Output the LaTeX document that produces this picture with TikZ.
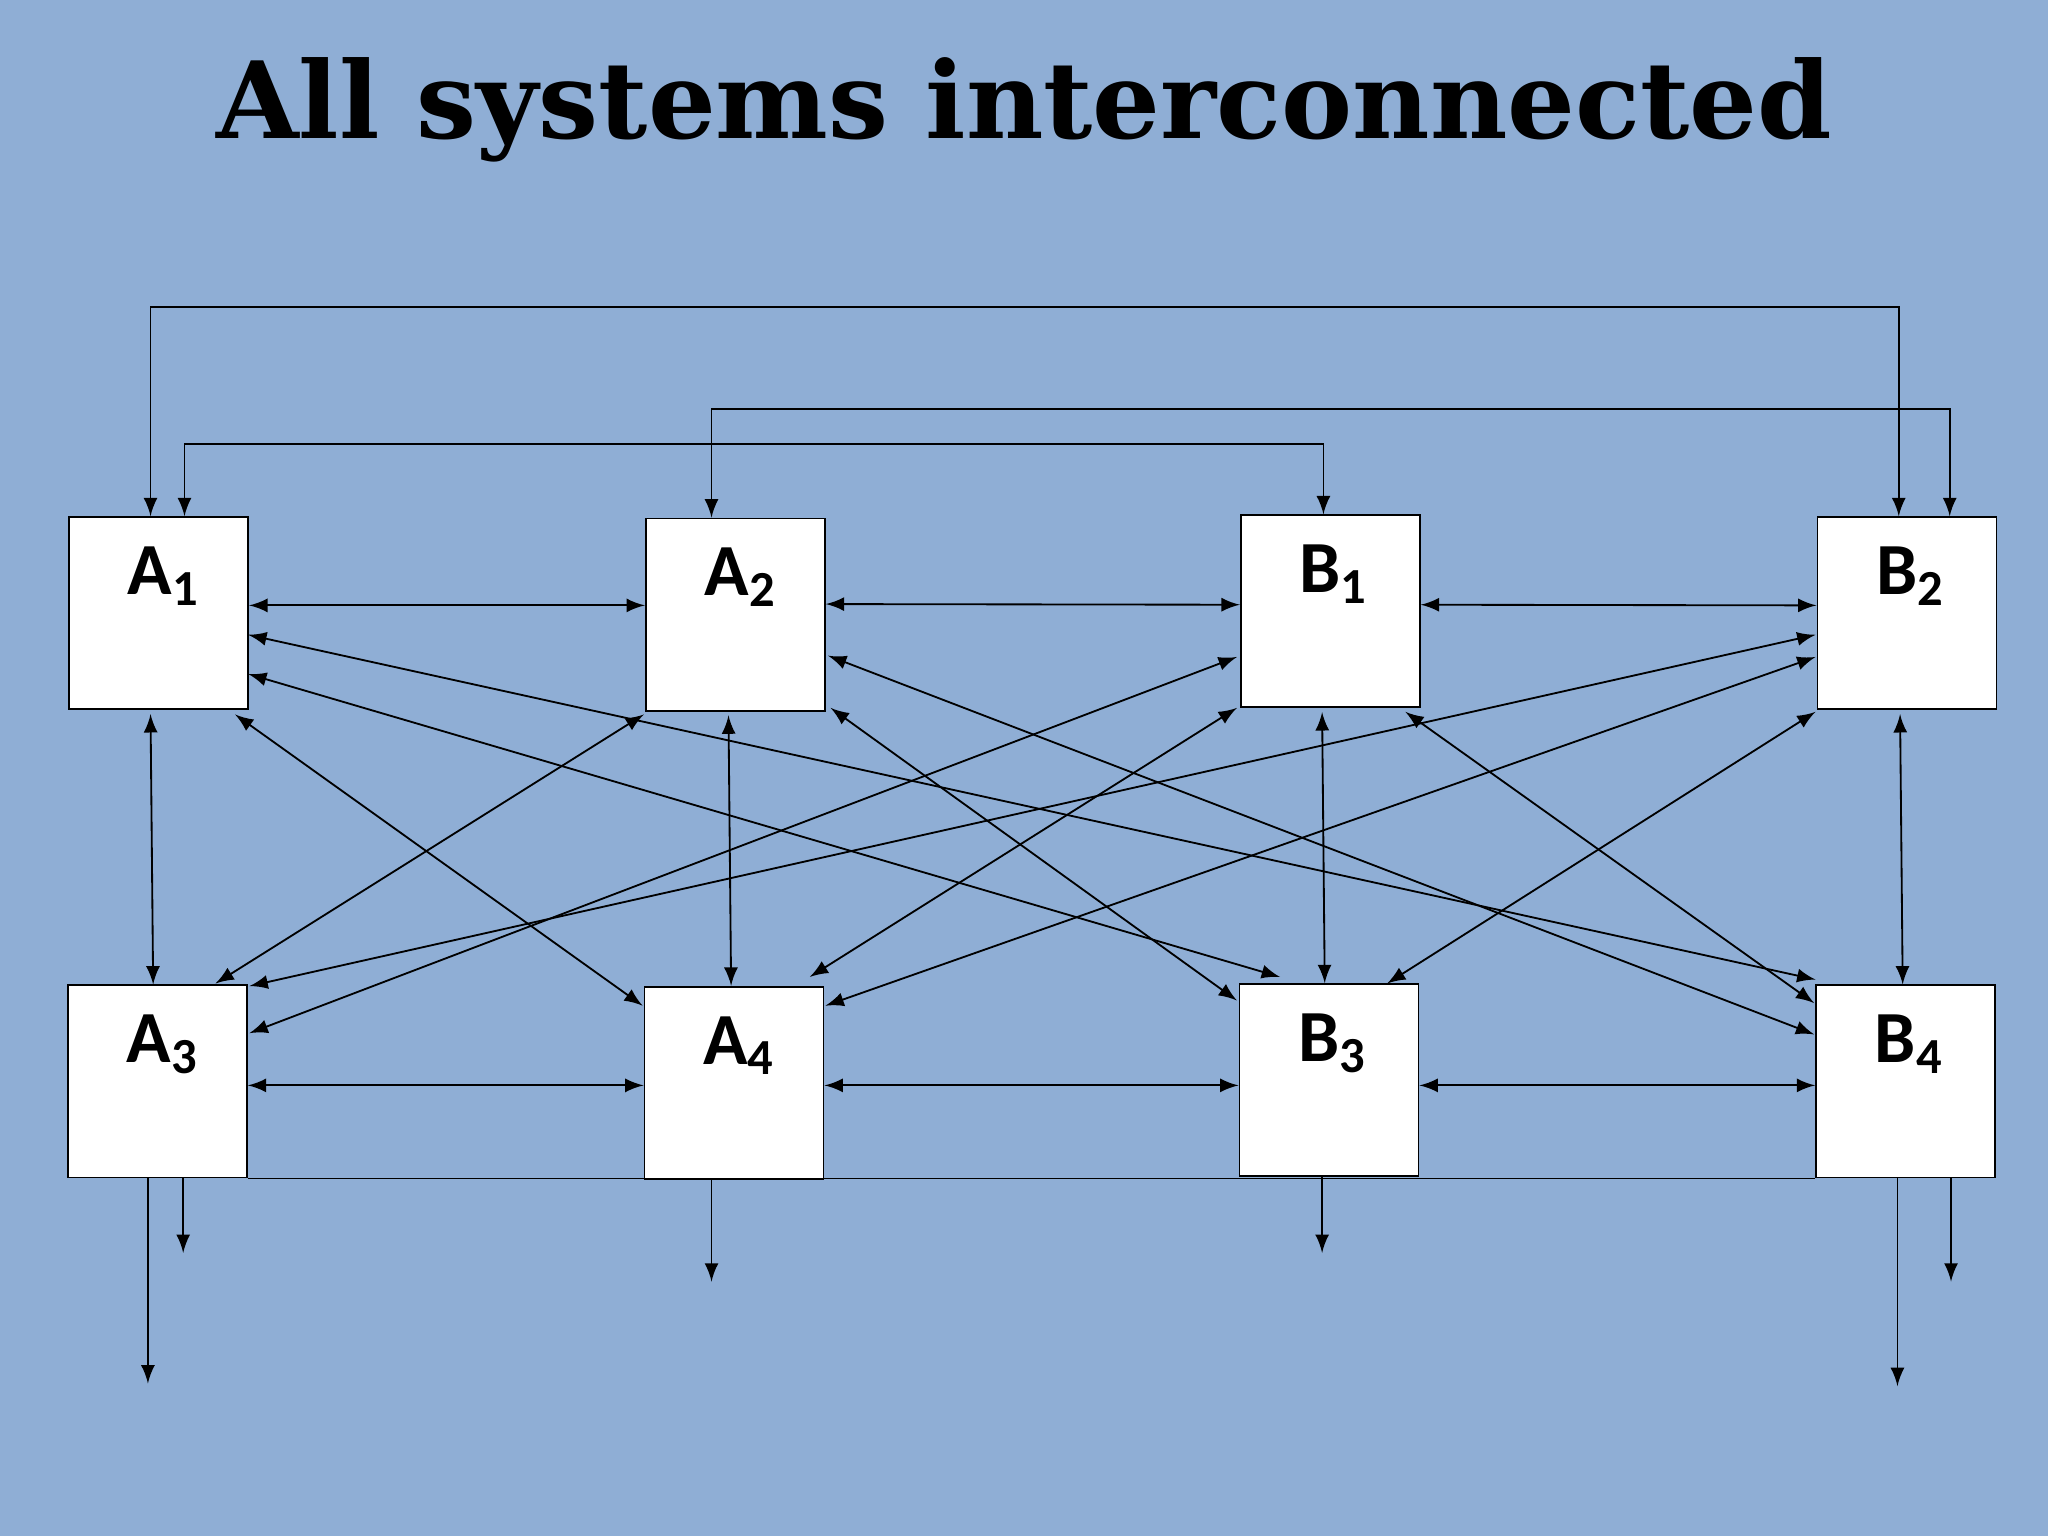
\documentclass[tikz,border=0pt]{standalone}
\usepackage{fontspec}
\setmainfont{Carlito}
\newfontfamily\titlefont{DejaVu Serif}
\usetikzlibrary{calc}
\definecolor{slide}{HTML}{8FAED5}
\tikzset{
  sys/.style={draw, fill=white, minimum width=1.37cm, minimum height=1.47cm, inner sep=0pt},
  lbl/.style={font=\bfseries\fontsize{16}{16}\selectfont, inner sep=0pt},
  link/.style={<->, >=latex},
  outlink/.style={->, >=latex}
}
\newcommand{\sysname}[2]{#1\raisebox{-0.3ex}{\fontsize{11}{11}\selectfont #2}}
\begin{document}
\begin{tikzpicture}[x=0.01cm, y=-0.01cm]
  \fill[slide] (0,0) rectangle (1568,1176);
  \useasboundingbox (0,0) rectangle (1568,1176);
  % title
  \node[font=\titlefont\bfseries\fontsize{23.2}{23.2}\selectfont] (title) at (784,84) {All systems interconnected};

  % systems
  \node[sys] (A1) at (121.5,469.5) {};
  \node[sys] (A2) at (563,470.5) {};
  \node[sys] (B1) at (1018.5,468) {};
  \node[sys] (B2) at (1460,469.5) {};
  \node[sys] (A3) at (120.5,828) {};
  \node[sys] (A4) at (562,829) {};
  \node[sys] (B3) at (1017.5,827) {};
  \node[sys] (B4) at (1459,828) {};
  \foreach \n/\t/\s in {A1/A/1, A2/A/2, B1/B/1, B2/B/2, A3/A/3, A4/A/4, B3/B/3, B4/B/4}
    \node[lbl, anchor=base west] at ($(\n.north west)+(45,60)$) {\sysname{\t}{\s}};

  % bottom bus
  \draw (A3.south east) -- (B4.south west);

  % top loops
  \draw[link] ($(A1.north west)+(63,0)$) -- ++(0,-160) -| ($(B2.north west)+(63,0)$);
  \draw[link] ($(A1.north west)+(89,0)$) -- ++(0,-55) -| ($(B1.north west)+(64,0)$);
  \draw[link] ($(A2.north west)+(51,0)$) -- ++(0,-83) -| ($(B2.north west)+(102,0)$);

  % neighbours
  \draw[link] ($(A1.east)+(0,-6)$) -- ($(A2.west)+(0,-7)$);
  \draw[link] ($(A2.east)+(0,-8)$) -- ($(B1.west)+(0,-5)$);
  \draw[link] ($(B1.east)+(0,-5)$) -- ($(B2.west)+(0,-6)$);
  \draw[link] ($(A3.east)+(0,3)$) -- ($(A4.west)+(0,2)$);
  \draw[link] ($(A4.east)+(0,2)$) -- ($(B3.west)+(0,4)$);
  \draw[link] ($(B3.east)+(0,4)$) -- ($(B4.west)+(0,3)$);
  \draw[link] ($(A1.south west)+(63,3)$) -- ($(A3.north west)+(66,0)$);
  \draw[link] ($(A2.south west)+(64,3)$) -- ($(A4.north west)+(67,0)$);
  \draw[link] ($(B1.south west)+(63,3)$) -- ($(B3.north west)+(66,0)$);
  \draw[link] ($(B2.south west)+(64,3)$) -- ($(B4.north west)+(67,0)$);

  % cross links
  \draw[link] (190,486) -- (1390,750);
  \draw[link] (190,516) -- (980,748);
  \draw[link] (180,547) -- (492,770);
  \draw[link] (493,547) -- (165,753);
  \draw[link] (634,502) -- (1389,792);
  \draw[link] (636,542) -- (947,766);
  \draw[link] (947,503) -- (191,791);
  \draw[link] (947,542) -- (620,748);
  \draw[link] (1076,545) -- (1389,768);
  \draw[link] (1390,486) -- (191,755);
  \draw[link] (1390,503) -- (632,770);
  \draw[link] (1390,545) -- (1062,753);

  % outputs
  \draw[outlink] ($(A3.south west)+(62,0)$) -- ++(0,157);
  \draw[outlink] ($(A3.south west)+(89,0)$) -- ++(0,57);
  \draw[outlink] ($(A4.south west)+(52,0)$) -- ++(0,78);
  \draw[outlink] ($(B3.south west)+(64,0)$) -- ++(0,58);
  \draw[outlink] ($(B4.south west)+(63,0)$) -- ++(0,159);
  \draw[outlink] ($(B4.south west)+(104,0)$) -- ++(0,79);
\end{tikzpicture}
\end{document}
